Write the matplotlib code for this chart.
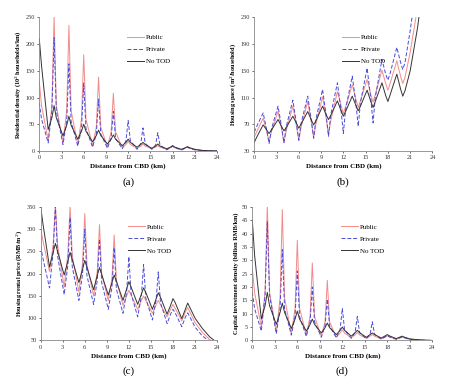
import matplotlib
matplotlib.use('Agg')
import matplotlib.pyplot as plt

plt.rcParams['font.family'] = ['Liberation Serif', 'DejaVu Serif']

# Distance from CBD (km): stations every 2 km, shoulders at +/-0.3, mid points at s+1.2
dist = [0, 0.3, 1.2, 1.7, 2, 2.3, 3.2, 3.7, 4, 4.3, 5.2, 5.7, 6, 6.3, 7.2, 7.7,
        8, 8.3, 9.2, 9.7, 10, 10.3, 11.2, 11.7, 12, 12.3, 13.2, 13.7, 14, 14.3,
        15.2, 15.7, 16, 16.3, 17.2, 17.7, 18, 18.3, 19.2, 19.7, 20, 20.3,
        21, 22, 23, 24]

# (a) residential density
dens_public = [130, 85, 20, 85, 252, 85, 15, 75, 235, 75, 12, 60, 180, 60, 9, 45,
               138, 45, 7, 36, 108, 36, 6, 12, 18, 12, 5, 9, 13, 9,
               4, 7, 10, 7, 3, 6, 9, 6, 2, 5, 7, 5,
               2, 0.8, 0.2, 0]
dens_private = [90, 60, 15, 75, 212, 75, 12, 55, 163, 55, 9, 42, 127, 42, 7, 32,
                97, 32, 5, 24, 74, 24, 4, 19, 57, 19, 3, 14, 43, 14,
                3, 11, 34, 11, 2, 6, 9, 6, 2, 5, 7, 5,
                2, 0.8, 0.2, 0]
dens_notod = [210, 160, 40, 62, 85, 62, 28, 48, 65, 48, 22, 37, 50, 37, 17, 29,
              39, 29, 13, 22, 30, 22, 10, 16, 22, 16, 7, 12, 16, 12,
              5, 9, 13, 9, 4, 7, 10, 7, 3, 6, 8, 6,
              3, 1, 0.3, 0]

# (b) housing space
space_public = [51, 58, 79, 58, 44, 58, 89, 62, 42, 60, 97, 66, 46, 65, 104, 72,
                50, 70, 111, 78, 54, 75, 119, 98, 86, 96, 129, 107, 95, 105,
                137, 114, 103, 114, 151, 131, 121, 131, 165, 142, 131, 140,
                178, 245, 330, 430]
space_private = [58, 66, 87, 60, 41, 62, 97, 65, 42, 66, 106, 70, 46, 71, 112, 75,
                 49, 77, 122, 82, 52, 84, 132, 90, 56, 92, 142, 100, 67, 102,
                 154, 108, 72, 110, 167, 145, 136, 146, 185, 163, 152, 162,
                 210, 290, 390, 500]
space_notod = [42.5, 50, 69, 61, 56, 61, 77, 66, 60, 65, 82, 71, 64, 70, 89, 76,
               69, 75, 97, 84, 77, 83, 105, 90, 82, 89, 112, 98, 90, 97,
               121, 104, 95, 104, 132, 113, 104, 114, 145, 123, 112, 120,
               150, 215, 300, 400]

# (c) housing rental price
rent_public = [300, 275, 205, 265, 355, 265, 170, 245, 352, 240, 159, 225, 335, 220, 150, 205,
               310, 200, 139, 190, 287, 185, 129, 150, 163, 152, 120, 140, 150, 140,
               111, 130, 140, 130, 103, 121, 131, 122, 94, 115, 124, 114,
               90, 68, 52, 40]
rent_private = [262, 235, 168, 250, 352, 240, 153, 220, 326, 215, 140, 200, 300, 195, 131, 185,
                278, 180, 120, 170, 259, 165, 111, 160, 238, 155, 103, 150, 221, 145,
                96, 140, 204, 135, 88, 110, 120, 112, 81, 103, 112, 103,
                80, 60, 48, 38]
rent_notod = [350, 313, 215, 248, 268, 250, 197, 228, 248, 231, 180, 210, 230, 214, 164, 196,
              214, 198, 152, 180, 197, 183, 140, 166, 182, 170, 131, 154, 168, 158,
              120, 143, 157, 147, 109, 130, 144, 135, 99, 121, 134, 124,
              100, 77, 58, 45]

# (d) capital investment density
cap_public = [27, 18, 5, 18, 51, 18, 3, 16, 49, 16, 2.5, 12, 37.5, 12, 2, 9,
              29, 9, 1.5, 7, 22.5, 7, 1.2, 2.8, 4, 2.8, 1, 2.1, 3, 2.1,
              0.8, 1.6, 2.2, 1.6, 0.6, 1.3, 1.8, 1.3, 0.5, 1, 1.3, 1,
              0.4, 0.2, 0.1, 0]
cap_private = [18, 12, 3.5, 17, 44.5, 17, 2.5, 12, 34, 12, 2, 9, 26, 9, 1.5, 7,
               20, 7, 1.2, 5.5, 15.5, 5.5, 1, 4, 12, 4, 0.8, 3, 9, 3,
               0.6, 2.3, 7, 2.3, 0.5, 1.3, 1.8, 1.3, 0.4, 1, 1.3, 1,
               0.4, 0.2, 0.1, 0]
cap_notod = [45, 32, 8, 13, 18, 13, 6, 10.5, 14, 10.5, 4.5, 8, 11, 8, 3.5, 6,
             8, 6, 2.8, 4.8, 6.5, 4.8, 2.2, 3.8, 5, 3.8, 1.6, 2.9, 3.8, 2.9,
             1.2, 2.2, 2.8, 2.2, 0.9, 1.7, 2.2, 1.7, 0.7, 1.3, 1.6, 1.2,
             0.6, 0.3, 0.1, 0]

panels = [
    ('(a)', dens_public, dens_private, dens_notod, (0, 250), range(0, 251, 50),
     'Residential density (10$^2$ households/km)', [0.0873, 0.609, 0.395, 0.346]),
    ('(b)', space_public, space_private, space_notod, (30, 230), range(30, 231, 40),
     'Housing space (m$^2$/household)', [0.565, 0.609, 0.396, 0.346]),
    ('(c)', rent_public, rent_private, rent_notod, (50, 350), range(50, 351, 50),
     'Housing rental price (RMB/m$^2$)', [0.0904, 0.118, 0.392, 0.346]),
    ('(d)', cap_public, cap_private, cap_notod, (0, 50), range(0, 51, 5),
     'Capital investment density (billion RMB/km)', [0.5607, 0.118, 0.400, 0.346]),
]

fig = plt.figure(figsize=(4.5, 3.86), dpi=100)

for tag, pub, pri, non, ylim, yticks, ylabel, rect in panels:
    ax = fig.add_axes(rect)
    ax.plot(dist, pub, color='#f38b8b', lw=0.7, label='Public')
    ax.plot(dist, pri, color='#4b4bd8', lw=0.7, ls=(0, (4, 2)), label='Private')
    ax.plot(dist, non, color='#333333', lw=0.7, label='No TOD')
    ax.set_xlim(0, 24)
    ax.set_ylim(*ylim)
    ax.set_xticks(range(0, 25, 3))
    ax.set_yticks(list(yticks))
    ax.tick_params(labelsize=4.5, length=1.5, width=0.5, pad=1.5, colors='#333333')
    for side in ('top', 'right'):
        ax.spines[side].set_visible(False)
    for side in ('left', 'bottom'):
        ax.spines[side].set_linewidth(0.6)
        ax.spines[side].set_color('#888888')
    ax.set_xlabel('Distance from CBD (km)', fontsize=5, fontweight='bold', labelpad=2.5)
    ax.set_ylabel(ylabel, fontsize=4.5, fontweight='bold', labelpad=2)
    ax.legend(loc='upper left', bbox_to_anchor=(0.46, 0.92), frameon=False,
              fontsize=5, handlelength=2.4, handletextpad=0.3, labelspacing=0.9)
    fig.text(rect[0] + rect[2] / 2, rect[1] - 0.08, tag, ha='center', va='center',
             fontsize=8)

fig.savefig('out.png', dpi=100)
